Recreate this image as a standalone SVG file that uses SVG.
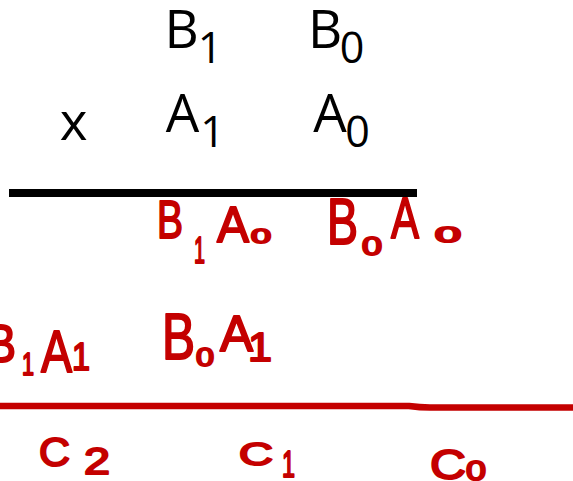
<svg xmlns="http://www.w3.org/2000/svg" width="573" height="481" viewBox="0 0 573 481">
<style>
.t{font-family:"Open Sans","Noto Sans",sans-serif;fill:#000;text-anchor:middle}
.m{font-size:53px}
.s{font-size:43px}
.r{font-family:"Liberation Sans","DejaVu Sans",sans-serif;fill:#C40000;stroke:#C40000;stroke-width:2;stroke-linejoin:round}
</style>
<rect width="573" height="481" fill="#fff"/>
<g id="row-B">
<text class="t m" x="181.5" y="48">B</text><text class="t s" x="210" y="63">1</text>
<text class="t m" x="325" y="48">B</text><text class="t s" x="352" y="63">0</text>
</g>
<g id="row-A">
<text class="t m" x="73.5" y="140">x</text>
<text class="t m" x="182.5" y="132">A</text><text class="t s" x="212.5" y="147">1</text>
<text class="t m" x="330" y="132">A</text><text class="t s" x="357.5" y="147">0</text>
</g>
<g id="lines">
<line x1="9" y1="193" x2="417" y2="193" stroke="#000" stroke-width="8"/>
<path d="M0 406 L409 406 Q420 407.5 430 407.5 L573 407.5" fill="none" stroke="#C40000" stroke-width="6.5"/>
</g>
<g id="B1A0">
<text class="r" x="157" y="238" font-size="53" textLength="26" lengthAdjust="spacingAndGlyphs">B</text>
<text class="r" x="194" y="263" font-size="36" textLength="11" lengthAdjust="spacingAndGlyphs">1</text>
<text class="r" x="217" y="242" font-size="50" textLength="32" lengthAdjust="spacingAndGlyphs">A</text>
<text class="r" x="251" y="243" font-size="21" textLength="20" lengthAdjust="spacingAndGlyphs">0</text>
</g>
<g id="B0A0">
<text class="r" x="327" y="244" font-size="64" textLength="31" lengthAdjust="spacingAndGlyphs">B</text>
<text class="r" x="362" y="255" font-size="25" textLength="20" lengthAdjust="spacingAndGlyphs">0</text>
<text class="r" x="391" y="238" font-size="57" textLength="28" lengthAdjust="spacingAndGlyphs">A</text>
<text class="r" x="435" y="242" font-size="22" textLength="26" lengthAdjust="spacingAndGlyphs">0</text>
</g>
<g id="B1A1">
<text class="r" x="-14" y="362" font-size="53" textLength="30" lengthAdjust="spacingAndGlyphs">B</text>
<text class="r" x="22" y="375" font-size="31" textLength="12" lengthAdjust="spacingAndGlyphs">1</text>
<text class="r" x="41" y="372" font-size="59" textLength="31" lengthAdjust="spacingAndGlyphs">A</text>
<text class="r" x="72" y="370" font-size="38" textLength="18" lengthAdjust="spacingAndGlyphs">1</text>
</g>
<g id="B0A1">
<text class="r" x="162" y="359" font-size="64" textLength="33" lengthAdjust="spacingAndGlyphs">B</text>
<text class="r" x="196" y="366" font-size="25" textLength="18" lengthAdjust="spacingAndGlyphs">0</text>
<text class="r" x="220" y="351" font-size="50" textLength="33" lengthAdjust="spacingAndGlyphs">A</text>
<text class="r" x="248" y="361" font-size="40" textLength="24" lengthAdjust="spacingAndGlyphs">1</text>
</g>
<g id="C2">
<text class="r" x="39" y="466" font-size="40" textLength="31" lengthAdjust="spacingAndGlyphs">C</text>
<text class="r" x="84" y="474" font-size="36" textLength="26" lengthAdjust="spacingAndGlyphs">2</text>
</g>
<g id="C1">
<text class="r" x="239" y="465" font-size="32" textLength="34" lengthAdjust="spacingAndGlyphs">C</text>
<text class="r" x="282" y="477" font-size="36" textLength="13" lengthAdjust="spacingAndGlyphs">1</text>
</g>
<g id="C0">
<text class="r" x="430" y="479" font-size="43" textLength="36" lengthAdjust="spacingAndGlyphs">C</text>
<text class="r" x="466" y="480" font-size="28" textLength="20" lengthAdjust="spacingAndGlyphs">0</text>
</g>
</svg>
